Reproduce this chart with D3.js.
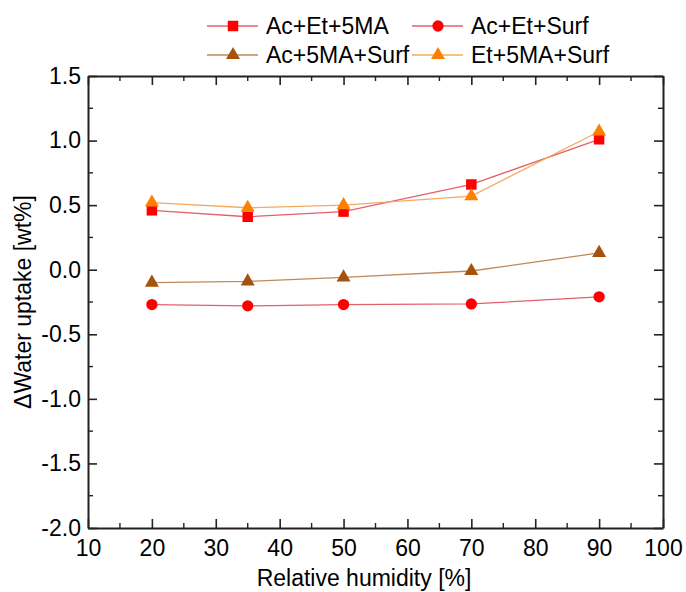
<!DOCTYPE html>
<html>
<head>
<meta charset="utf-8">
<title>Water uptake vs relative humidity</title>
<style>
  body { margin: 0; background: #fff; }
  text { font-family: Arial, "Liberation Sans", sans-serif; fill: #000; }
</style>
</head>
<body>
<div id="chart"></div>
<script src="https://d3js.org/d3.v7.min.js"></script>
<script>
// relative humidity steps
var humidity = [20, 35, 50, 70, 90];

// change in water uptake [wt%] for each blend
var acEt5ma   = [0.46, 0.41, 0.45, 0.66, 1.01];
var acEtSurf  = [-0.27, -0.28, -0.27, -0.265, -0.21];
var ac5maSurf = [-0.10, -0.09, -0.06, -0.01, 0.13];
var et5maSurf = [0.52, 0.48, 0.50, 0.57, 1.07];

var xTicks = [10, 20, 30, 40, 50, 60, 70, 80, 90, 100];
var yTicks = [-2.0, -1.5, -1.0, -0.5, 0.0, 0.5, 1.0, 1.5];

var series = [
  { name: "Ac+Et+5MA",   values: acEt5ma,   color: "#ff0000", line: "#e4606c", shape: d3.symbolSquare },
  { name: "Ac+Et+Surf",  values: acEtSurf,  color: "#ff0000", line: "#e4606c", shape: d3.symbolCircle },
  { name: "Ac+5MA+Surf", values: ac5maSurf, color: "#a5520c", line: "#c08a5c", shape: d3.symbolTriangle },
  { name: "Et+5MA+Surf", values: et5maSurf, color: "#ff8000", line: "#f5aa60", shape: d3.symbolTriangle }
];

var width = 686, height = 592;
var margin = { top: 76, right: 23, bottom: 64, left: 88 };

var svg = d3.select("#chart").append("svg")
  .attr("width", width)
  .attr("height", height);

var x = d3.scaleLinear().domain([10, 100]).range([margin.left, width - margin.right]);
var y = d3.scaleLinear().domain([-2, 1.5]).range([height - margin.bottom, margin.top]);

var minorX = d3.range(15, 100, 10);
var minorY = d3.range(-1.75, 1.5, 0.5);

// plain hyphen for negatives, like the original plotting software
var fmtY = function(d) { return d3.format(".1f")(d).replace("\u2212", "-"); };

function styleAxis(g) {
  g.selectAll(".domain").attr("stroke", "#222").attr("stroke-width", 2);
  g.selectAll(".tick line").attr("stroke", "#222").attr("stroke-width", 1.6);
}

// major ticks point inward on all four sides
var gx = svg.append("g")
  .attr("transform", "translate(0," + y.range()[0] + ")")
  .call(d3.axisBottom(x).tickValues(xTicks).tickSizeInner(-9).tickSizeOuter(0).tickPadding(12).tickFormat(d3.format("d")));
gx.selectAll("text").style("font-size", "23px");
styleAxis(gx);

var gxTop = svg.append("g")
  .attr("transform", "translate(0," + y.range()[1] + ")")
  .call(d3.axisTop(x).tickValues(xTicks).tickSizeInner(-9).tickSizeOuter(0).tickFormat(""));
styleAxis(gxTop);

var gy = svg.append("g")
  .attr("transform", "translate(" + x.range()[0] + ",0)")
  .call(d3.axisLeft(y).tickValues(yTicks).tickSizeInner(-9).tickSizeOuter(0).tickPadding(7).tickFormat(fmtY));
gy.selectAll("text").style("font-size", "23px");
styleAxis(gy);

var gyRight = svg.append("g")
  .attr("transform", "translate(" + x.range()[1] + ",0)")
  .call(d3.axisRight(y).tickValues(yTicks).tickSizeInner(-9).tickSizeOuter(0).tickFormat(""));
styleAxis(gyRight);

// minor ticks
var minor = svg.append("g").attr("stroke", "#222").attr("stroke-width", 1.4);
minorX.forEach(function(v) {
  minor.append("line").attr("x1", x(v)).attr("x2", x(v)).attr("y1", y(-2)).attr("y2", y(-2) - 5);
  minor.append("line").attr("x1", x(v)).attr("x2", x(v)).attr("y1", y(1.5)).attr("y2", y(1.5) + 5);
});
minorY.forEach(function(v) {
  minor.append("line").attr("x1", x(10)).attr("x2", x(10) + 5).attr("y1", y(v)).attr("y2", y(v));
  minor.append("line").attr("x1", x(100)).attr("x2", x(100) - 5).attr("y1", y(v)).attr("y2", y(v));
});

// axis titles
svg.append("text")
  .attr("x", 364)
  .attr("y", 586)
  .attr("text-anchor", "middle")
  .style("font-size", "23px")
  .text("Relative humidity [%]");

svg.append("text")
  .attr("transform", "translate(31," + ((y.range()[0] + y.range()[1]) / 2) + ") rotate(-90)")
  .attr("text-anchor", "middle")
  .style("font-size", "23px")
  .text("\u0394Water uptake [wt%]");

var line = d3.line()
  .x(function(d, i) { return x(humidity[i]); })
  .y(function(d) { return y(d); });

function sizeFor(shape) {
  return shape === d3.symbolSquare ? 110 : shape === d3.symbolCircle ? 100 : 85;
}

// lines first, markers on top
series.forEach(function(s) {
  svg.append("path")
    .datum(s.values)
    .attr("fill", "none")
    .attr("stroke", s.line)
    .attr("stroke-width", 1.3)
    .attr("d", line);
});

series.forEach(function(s) {
  svg.append("g").selectAll("path")
    .data(s.values)
    .enter().append("path")
    .attr("transform", function(d, i) { return "translate(" + x(humidity[i]) + "," + y(d) + ")"; })
    .attr("d", d3.symbol().type(s.shape).size(sizeFor(s.shape)))
    .attr("fill", s.color);
});

// legend: two rows, two columns
var legendPos = [
  { x: 207, y: 26 }, { x: 412, y: 26 },
  { x: 207, y: 55 }, { x: 412, y: 55 }
];
var legend = svg.append("g");
series.forEach(function(s, i) {
  var p = legendPos[i];
  var g = legend.append("g").attr("transform", "translate(" + p.x + "," + p.y + ")");
  g.append("line").attr("x1", 0).attr("x2", 51).attr("y1", 0).attr("y2", 0)
    .attr("stroke", s.line).attr("stroke-width", 1.3);
  g.append("path")
    .attr("transform", "translate(26,0)")
    .attr("d", d3.symbol().type(s.shape).size(sizeFor(s.shape)))
    .attr("fill", s.color);
  g.append("text")
    .attr("x", 59).attr("y", 8)
    .style("font-size", "23px")
    .text(s.name);
});
</script>
</body>
</html>
